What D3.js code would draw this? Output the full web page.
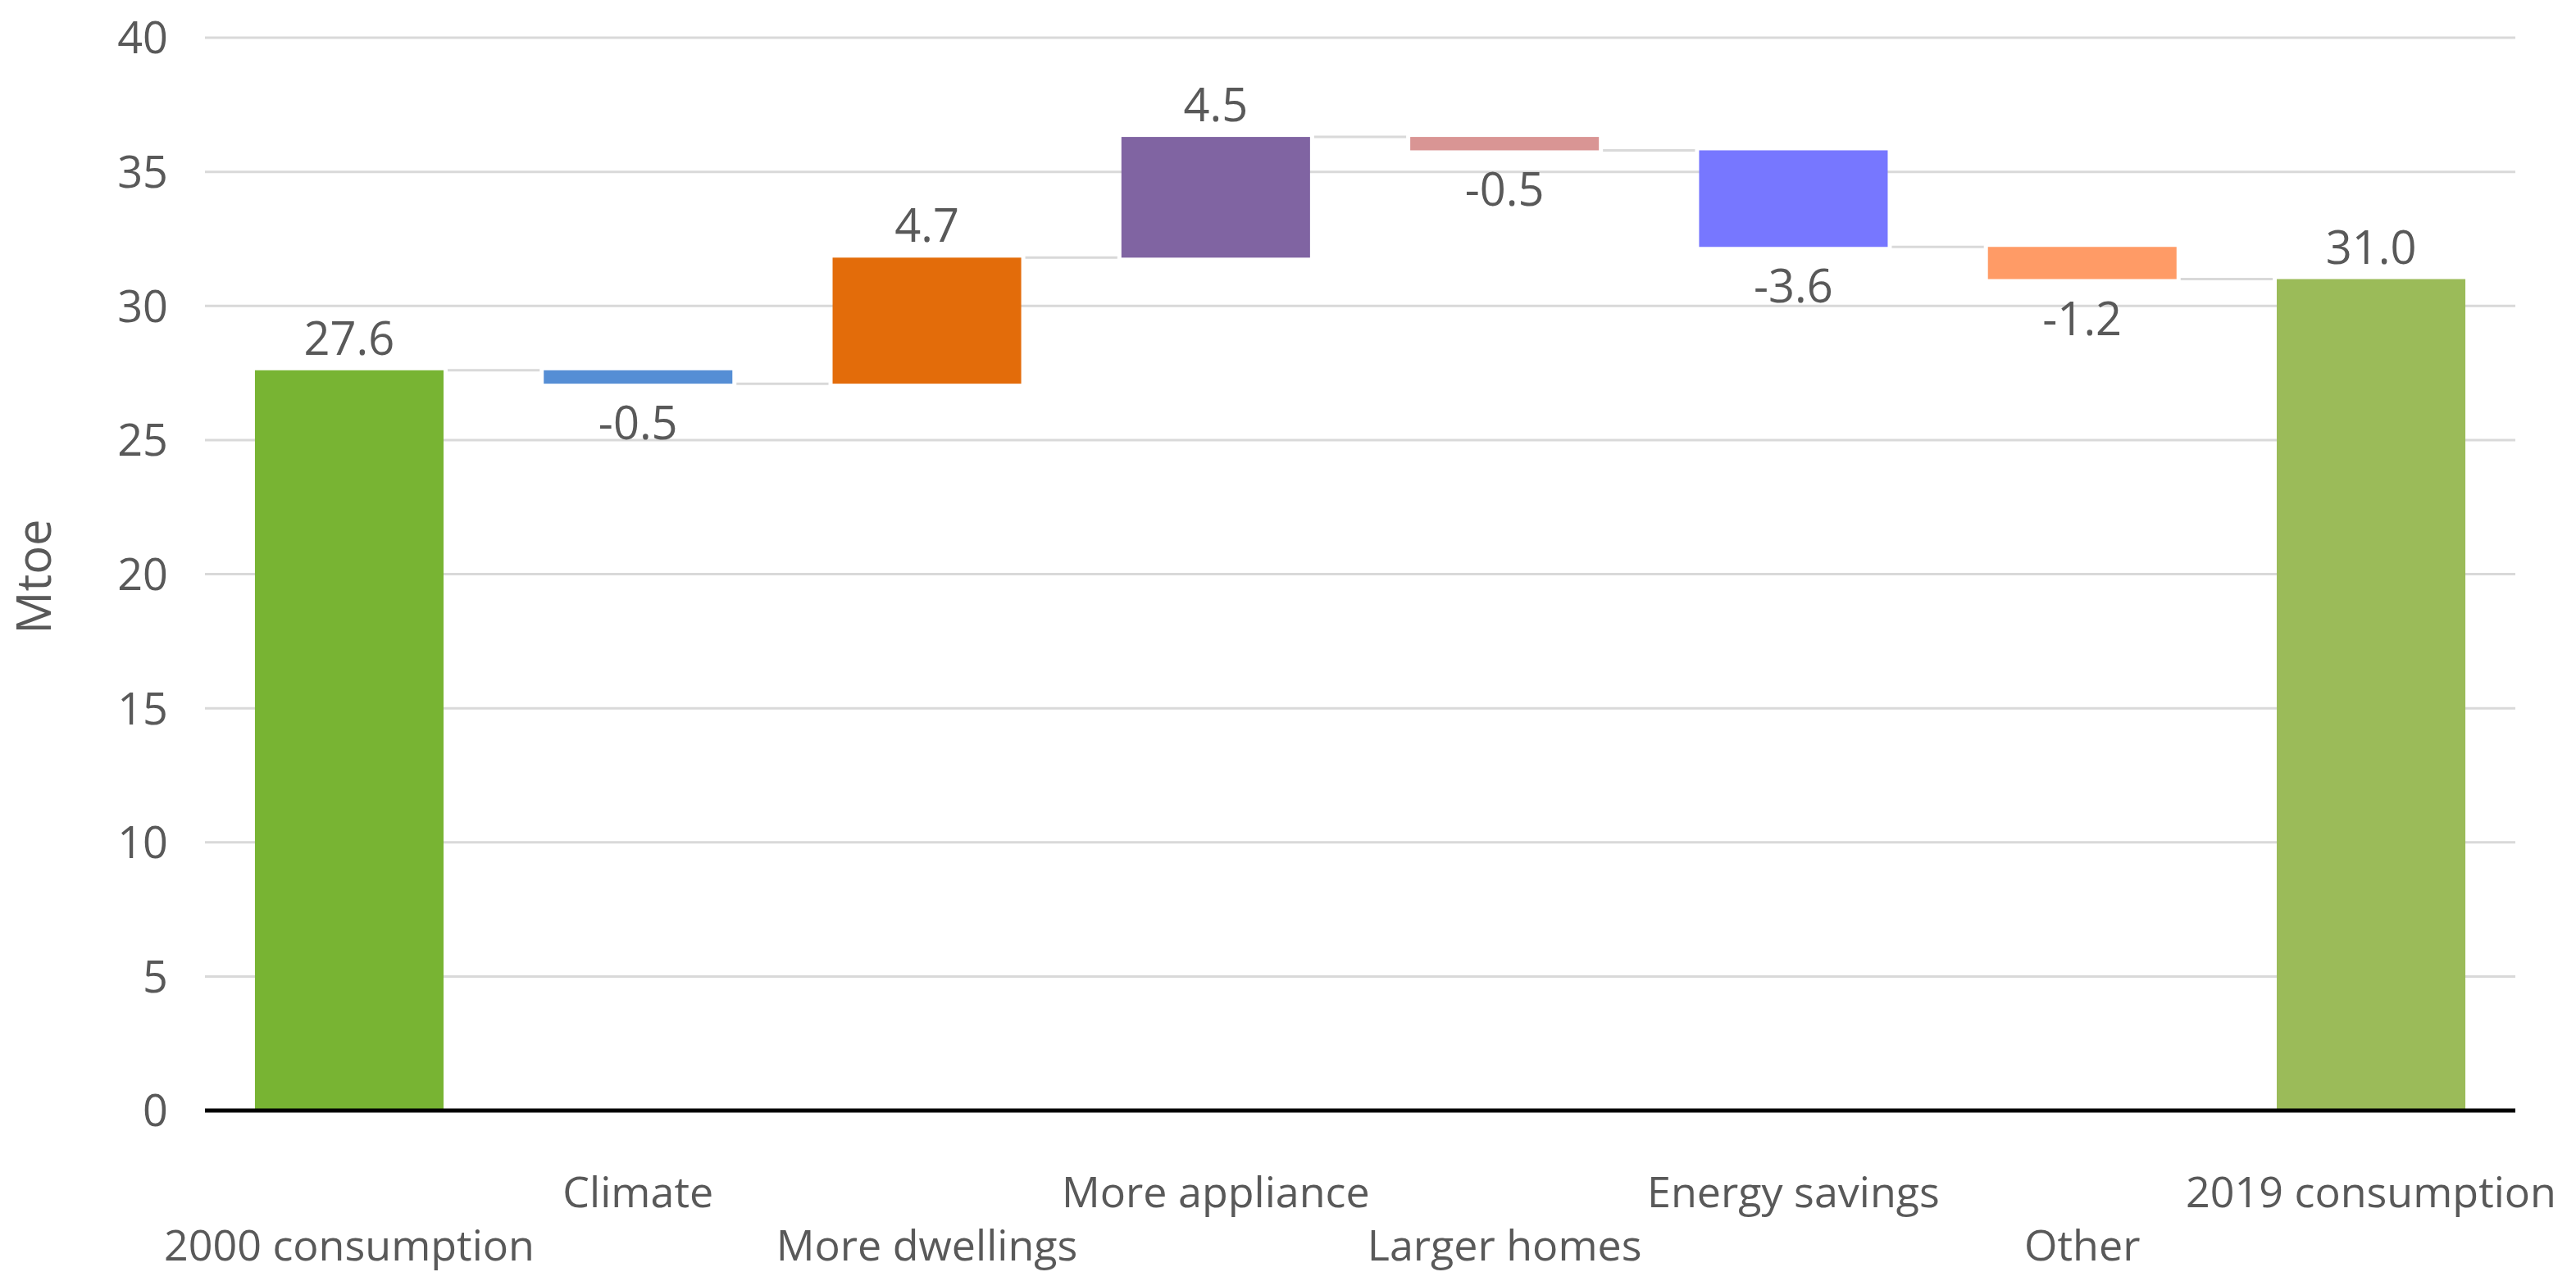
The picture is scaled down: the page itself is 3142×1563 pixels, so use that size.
<!DOCTYPE html>
<html>
<head>
<meta charset="utf-8">
<script src="https://cdn.jsdelivr.net/npm/d3@7"></script>
<style>
  body { margin: 0; background: #fff; }
  text { font-family: "Open Sans", sans-serif; fill: #595959; }
</style>
</head>
<body>
<script>
var categories = ["2000 consumption", "Climate", "More dwellings", "More appliance",
                  "Larger homes", "Energy savings", "Other", "2019 consumption"];
var values = [27.6, -0.5, 4.7, 4.5, -0.5, -3.6, -1.2, 31.0];
var isTotal = [true, false, false, false, false, false, false, true];
var yTicks = [0, 5, 10, 15, 20, 25, 30, 35, 40];

var barColors = ["#78b433", "#558ed5", "#e36c0a", "#8064a2",
                 "#d99594", "#7777ff", "#ff9b66", "#9bbb59"];

var W = 3142, H = 1563;
// note: "top" is taken by window.top, so plot edges get their own names
var plotLeft = 250, plotRight = 3068, plotTop = 46, plotBottom = 1355;

// running totals for the waterfall
var steps = [];
var run = 0;
values.forEach(function(v, i) {
  var start, end;
  if (isTotal[i]) { start = 0; end = v; run = v; }
  else { start = run; end = run + v; run = end; }
  steps.push({name: categories[i], value: v, start: start, end: end, i: i});
});

var x = d3.scaleBand()
          .domain(categories)
          .range([plotLeft, plotRight])
          .paddingInner(0.347)
          .paddingOuter(0.173);
var y = d3.scaleLinear().domain([0, 40]).range([plotBottom, plotTop]);

var svg = d3.select("body")
            .append("svg")
            .attr("width", W)
            .attr("height", H);

// gridlines
svg.append("g")
   .selectAll("line")
   .data(yTicks)
   .join("line")
   .attr("x1", plotLeft)
   .attr("x2", plotRight)
   .attr("y1", function(d) { return y(d); })
   .attr("y2", function(d) { return y(d); })
   .attr("stroke", "#d9d9d9")
   .attr("stroke-width", 3);

// y tick labels
svg.append("g")
   .selectAll("text")
   .data(yTicks)
   .join("text")
   .attr("x", 205)
   .attr("y", function(d) { return y(d) + 5; })
   .attr("text-anchor", "end")
   .attr("dominant-baseline", "middle")
   .style("font-size", "54px")
   .text(function(d) { return d; });

svg.append("text")
   .attr("transform", "translate(62," + (y(20) + 3) + ") rotate(-90)")
   .attr("text-anchor", "middle")
   .style("font-size", "58px")
   .text("Mtoe");

// connectors between bars
svg.append("g")
   .selectAll("line")
   .data(steps.slice(0, steps.length - 1))
   .join("line")
   .attr("x1", function(d) { return x(d.name) + x.bandwidth() + 5; })
   .attr("x2", function(d) { return x(categories[d.i + 1]) - 5; })
   .attr("y1", function(d) { return y(d.end); })
   .attr("y2", function(d) { return y(d.end); })
   .attr("stroke", "#d9d9d9")
   .attr("stroke-width", 3);

// bars
svg.append("g")
   .selectAll("rect")
   .data(steps)
   .join("rect")
   .attr("x", function(d) { return x(d.name); })
   .attr("width", x.bandwidth())
   .attr("y", function(d) { return y(Math.max(d.start, d.end)); })
   .attr("height", function(d) { return Math.abs(y(d.start) - y(d.end)); })
   .attr("fill", function(d) { return barColors[d.i]; });

// value labels
svg.append("g")
   .selectAll("text")
   .data(steps)
   .join("text")
   .attr("x", function(d) { return x(d.name) + x.bandwidth() / 2; })
   .attr("y", function(d) {
     if (d.value >= 0) return y(d.end) - 19;
     return y(d.end) + 28 + 40;
   })
   .attr("text-anchor", "middle")
   .style("font-size", "56px")
   .text(function(d) { return d.value.toFixed(1); });

// zero axis line
svg.append("line")
   .attr("x1", plotLeft)
   .attr("x2", plotRight)
   .attr("y1", y(0))
   .attr("y2", y(0))
   .attr("stroke", "#000")
   .attr("stroke-width", 5);

// category labels, staggered in two rows
svg.append("g")
   .selectAll("text")
   .data(categories)
   .join("text")
   .attr("x", function(d) { return x(d) + x.bandwidth() / 2; })
   .attr("y", function(d, i) { return i % 2 === 0 ? 1538 : 1473; })
   .attr("text-anchor", "middle")
   .style("font-size", "52px")
   .text(function(d) { return d; });
</script>
</body>
</html>
